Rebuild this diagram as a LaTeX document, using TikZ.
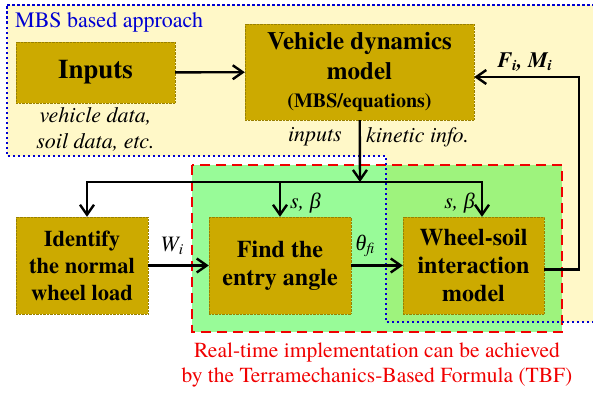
\documentclass[tikz,border=0pt]{standalone}
\usepackage{fontspec}
\setmainfont{TeX Gyre Termes}
\newfontfamily\greekfont{Liberation Serif}
\usetikzlibrary{arrows.meta, positioning, calc}
\definecolor{boxfill}{RGB}{204,170,0}
\definecolor{mbsbg}{RGB}{255,248,200}
\definecolor{tbfbg}{RGB}{152,251,152}
\definecolor{tbfmix}{RGB}{158,243,125}
\definecolor{mbsblue}{RGB}{0,0,210}
\definecolor{tbfred}{RGB}{240,0,0}
\tikzset{
  block/.style={rectangle, draw=boxfill!75!black, densely dotted, thin,
                fill=boxfill, align=center, inner sep=0pt,
                font=\bfseries\fontsize{24}{28}\selectfont},
  arrow/.style={-{Straight Barb[length=10pt, width=14pt, line width=2.4pt]},
                line width=2.4pt, black},
  note/.style={inner sep=0pt, align=center, font=\itshape\fontsize{22}{26}\selectfont},
  mbsline/.style={mbsblue, line width=2.5pt, dash pattern=on 2.5pt off 2.5pt},
  tbfline/.style={tbfred, line width=2.5pt, dash pattern=on 10pt off 6pt},
}

\begin{document}
\begin{tikzpicture}[x=1pt, y=-1pt]
  \useasboundingbox (0,0) rectangle (593,393);
  % regions
  \fill[mbsbg] (7,5) -- (597,5) -- (597,322) -- (386,322) -- (386,156) -- (7,156) -- cycle;
  \fill[tbfbg] (192,165) rectangle (562,332);
  \fill[tbfmix] (386,165) rectangle (562,322);
  \draw[tbfline] (192,165) rectangle (562,332);
  \draw[mbsline] (7,5) -- (597,5) -- (597,322) -- (386,322) -- (386,156) -- (7,156) -- cycle;
  \node[anchor=west, inner sep=0pt, text=mbsblue, font=\fontsize{22}{26}\selectfont] (mbstitle) at (15,22) {MBS based approach};

  % blocks
  \node[block, minimum width=159pt, minimum height=61pt, font=\bfseries\fontsize{27}{32}\selectfont] (inputs) at (95.5,72.5) {Inputs};
  \node[block, minimum width=229pt, minimum height=96pt, font=\bfseries\fontsize{25}{30}\selectfont] (vdm) at (359.5,72) {Vehicle dynamics\\model\\[-2pt]{\fontsize{20}{24}\selectfont(MBS/equations)}};
  \node[block, minimum width=132pt, minimum height=97pt, font=\bfseries\fontsize{22.5}{27}\selectfont] (ident) at (82,265.5) {Identify\\the normal\\wheel load};
  \node[block, minimum width=142pt, minimum height=97pt] (find) at (280,265.5) {\raisebox{-4pt}{Find the}\\\raisebox{-4pt}{entry angle}};
  \node[block, minimum width=141pt, minimum height=97pt] (wheel) at (473.5,265.5) {Wheel-soil\\interaction\\model};

  % labels
  \node[note, below=4pt of inputs] (indata) {vehicle data,\\soil data, etc.};
  \node[note, anchor=east] (inlbl) at (342,137) {inputs};
  \node[note, anchor=west] (kinlbl) at (366,137) {kinetic info.};
  \node[inner sep=0pt, font=\bfseries\itshape\fontsize{22}{26}\selectfont] (fmlbl) at (525,62) {F\textsubscript{i}, M\textsubscript{i}};
  \node[note] (wlbl) at (172,246) {W\textsubscript{i}};
  \node[note] (thlbl) at (365,246) {{\greekfont θ}\textsubscript{fi}};
  \node[note, anchor=west] (sb1) at (290,203) {s, {\greekfont β}};
  \node[note, anchor=east] (sb2) at (475,203) {s, {\greekfont β}};
  \node[align=center, text=tbfred, font=\fontsize{21.5}{25}\selectfont] (tbfnote) at (377,365) {Real-time implementation can be achieved\\by the Terramechanics-Based Formula (TBF)};

  % connectors
  \coordinate (bus) at (360,182);
  \coordinate (fbk) at (579,77);
  \draw[arrow] (inputs) -- (vdm);
  \draw[arrow] (vdm) -- (bus);
  \draw[arrow] (bus) -| ([xshift=5pt]ident.north);
  \draw[arrow] (bus) -| ([xshift=8.5pt]wheel.north);
  \draw[arrow] (find.north |- bus) -- (find);
  \draw[arrow] (ident) -- (find);
  \draw[arrow] (find) -- (wheel);
  \draw[arrow] ([yshift=-4pt]wheel.east) -| (fbk) -- ([yshift=-5pt]vdm.east);
\end{tikzpicture}
\end{document}
